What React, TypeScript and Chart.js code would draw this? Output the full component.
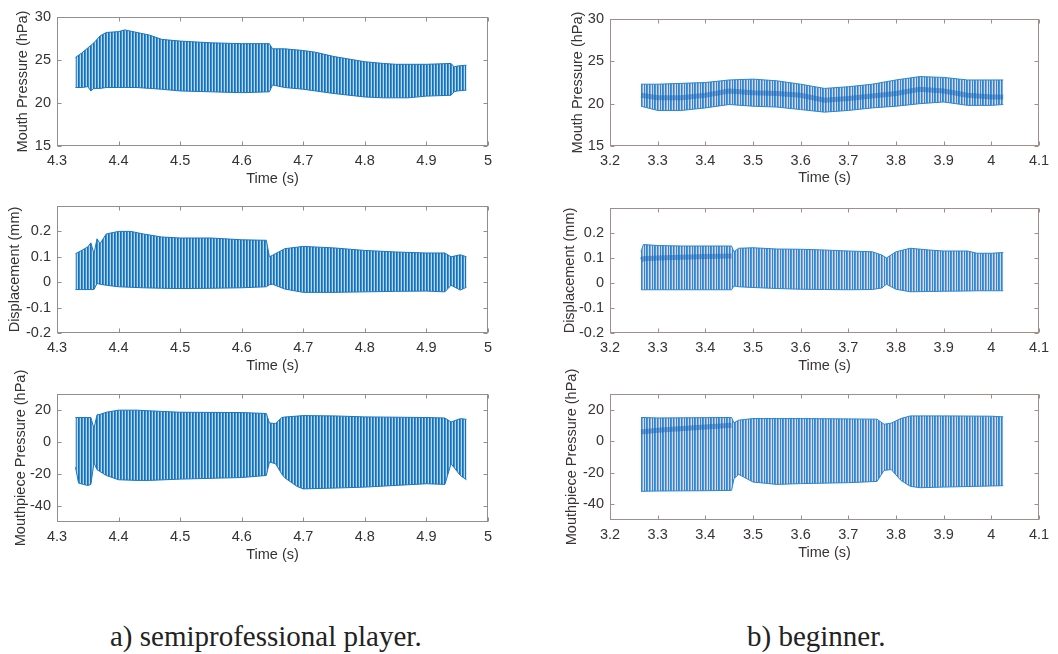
import React, { useEffect, useRef } from 'react';
import { Chart, registerables } from 'chart.js';

Chart.register(...registerables);

// ---------- tick labels ----------
const xTicksSemi = [4.3, 4.4, 4.5, 4.6, 4.7, 4.8, 4.9, 5];
const xTicksBeg = [3.2, 3.3, 3.4, 3.5, 3.6, 3.7, 3.8, 3.9, 4, 4.1];
const yTicksMouth = [15, 20, 25, 30];
const yTicksDisp = [-0.2, -0.1, 0, 0.1, 0.2];
const yTicksMp = [-40, -20, 0, 20];

// ---------- a) semiprofessional: mouth pressure envelope (hPa) ----------
const semiMouthT = [4.33, 4.34, 4.35, 4.355, 4.36, 4.37, 4.38, 4.40, 4.41, 4.43, 4.45, 4.47, 4.50, 4.55, 4.60, 4.645, 4.65, 4.67, 4.70, 4.72, 4.75, 4.80, 4.83, 4.85, 4.87, 4.90, 4.94, 4.945, 4.95, 4.965];
const semiMouthHi = [25.3, 25.8, 26.4, 26.7, 27.0, 27.8, 28.2, 28.3, 28.5, 28.2, 27.9, 27.4, 27.2, 27.0, 26.9, 26.9, 26.3, 26.3, 26.1, 25.9, 25.4, 24.8, 24.6, 24.5, 24.5, 24.5, 24.6, 24.2, 24.3, 24.4];
const semiMouthLo = [21.8, 21.8, 21.9, 21.4, 21.7, 21.7, 21.8, 21.8, 21.8, 21.8, 21.7, 21.6, 21.4, 21.3, 21.2, 21.3, 22.1, 21.8, 21.6, 21.4, 21.1, 20.7, 20.6, 20.6, 20.6, 20.8, 20.9, 21.3, 21.4, 21.5];

// ---------- a) semiprofessional: displacement envelope (mm) ----------
const semiDispT = [4.33, 4.34, 4.35, 4.355, 4.36, 4.365, 4.37, 4.38, 4.40, 4.42, 4.44, 4.47, 4.50, 4.55, 4.60, 4.64, 4.645, 4.65, 4.67, 4.70, 4.75, 4.80, 4.85, 4.90, 4.93, 4.94, 4.955, 4.965];
const semiDispHi = [0.112, 0.125, 0.139, 0.155, 0.112, 0.171, 0.152, 0.19, 0.2, 0.2, 0.19, 0.178, 0.174, 0.174, 0.167, 0.165, 0.1, 0.106, 0.132, 0.141, 0.135, 0.125, 0.119, 0.115, 0.115, 0.1, 0.108, 0.1];
const semiDispLo = [-0.029, -0.029, -0.029, -0.029, -0.029, -0.005, -0.008, -0.012, -0.018, -0.02, -0.022, -0.024, -0.025, -0.024, -0.022, -0.018, -0.01, -0.008, -0.027, -0.04, -0.04, -0.038, -0.036, -0.035, -0.038, -0.012, -0.031, -0.02];

// ---------- a) semiprofessional: mouthpiece pressure envelope (hPa) ----------
const semiMpT = [4.33, 4.335, 4.35, 4.355, 4.36, 4.365, 4.37, 4.38, 4.40, 4.43, 4.45, 4.50, 4.60, 4.64, 4.645, 4.655, 4.665, 4.67, 4.69, 4.70, 4.75, 4.80, 4.90, 4.93, 4.94, 4.955, 4.965];
const semiMpHi = [15.3, 15.3, 15.3, 15.3, 8.4, 17.0, 17.3, 18.6, 19.9, 19.9, 19.5, 18.6, 18.4, 17.8, 11.9, 11.5, 15.3, 15.6, 16.2, 16.5, 16.3, 15.7, 15.3, 15.0, 12.5, 14.6, 14.2];
const semiMpLo = [-15.7, -25.7, -27.2, -26.5, -13.0, -17.3, -18.5, -20.9, -23.6, -24.0, -24.0, -23.2, -22.2, -20.9, -12.5, -13.6, -20.0, -22.4, -27.8, -29.3, -28.8, -28.2, -26.1, -26.5, -13.6, -20.9, -23.6];

// ---------- b) beginner: mouth pressure envelope (hPa) ----------
const begMouthT = [3.265, 3.30, 3.35, 3.40, 3.45, 3.50, 3.55, 3.60, 3.65, 3.70, 3.75, 3.80, 3.85, 3.90, 3.95, 4.00, 4.025];
const begMouthHi = [22.3, 22.3, 22.4, 22.5, 22.8, 22.9, 22.7, 22.3, 21.8, 22.0, 22.3, 22.8, 23.2, 23.1, 22.8, 22.8, 22.8];
const begMouthLo = [19.7, 19.2, 19.2, 19.5, 19.9, 19.7, 19.6, 19.3, 19.0, 19.2, 19.5, 19.7, 20.0, 20.2, 19.8, 19.8, 19.9];
const begMouthMid = [21.0, 20.7, 20.7, 21.0, 21.5, 21.3, 21.2, 21.0, 20.4, 20.6, 20.9, 21.2, 21.7, 21.5, 21.0, 20.8, 20.8];

// ---------- b) beginner: displacement envelope (mm) ----------
const begDispT = [3.265, 3.27, 3.30, 3.35, 3.40, 3.455, 3.46, 3.47, 3.50, 3.55, 3.60, 3.65, 3.70, 3.75, 3.77, 3.78, 3.80, 3.83, 3.87, 3.90, 3.95, 3.97, 4.00, 4.025];
const begDispHi = [0.125, 0.154, 0.150, 0.148, 0.148, 0.148, 0.125, 0.139, 0.141, 0.136, 0.135, 0.132, 0.128, 0.125, 0.112, 0.100, 0.125, 0.139, 0.132, 0.128, 0.128, 0.119, 0.119, 0.122];
const begDispLo = [-0.027, -0.027, -0.027, -0.027, -0.027, -0.027, -0.012, -0.015, -0.018, -0.022, -0.025, -0.026, -0.027, -0.026, -0.020, -0.005, -0.025, -0.035, -0.034, -0.033, -0.032, -0.031, -0.031, -0.031];
const begDispMid = [0.092, 0.097, 0.100, 0.103, 0.106, 0.108, null, null, null, null, null, null, null, null, null, null, null, null, null, null, null, null, null, null];

// ---------- b) beginner: mouthpiece pressure envelope (hPa) ----------
const begMpT = [3.265, 3.30, 3.40, 3.455, 3.46, 3.47, 3.50, 3.55, 3.60, 3.70, 3.76, 3.775, 3.79, 3.81, 3.83, 3.85, 3.90, 4.00, 4.025];
const begMpHi = [15.1, 14.8, 15.0, 15.1, 11.7, 13.4, 14.4, 14.4, 14.4, 14.2, 14.0, 10.8, 11.5, 14.4, 16.1, 16.1, 16.1, 15.9, 15.5];
const begMpLo = [-31.8, -31.6, -31.4, -31.2, -23.8, -21.0, -25.9, -27.4, -26.9, -26.3, -25.5, -18.5, -18.0, -24.8, -28.6, -29.5, -29.1, -28.4, -28.2];
const begMpMid = [5.9, 7.0, 9.1, 10.2, null, null, null, null, null, null, null, null, null, null, null, null, null, null, null];

const FONT = "'Liberation Sans', Arial, Helvetica, sans-serif";
const FS = 14.5;
const LH = FS * 1.2;

type PanelDef = {
  L: number; T: number; W: number; H: number;
  cl: number; ct: number; cr: number; cb: number;
  xMin: number; xMax: number; xTicks: number[];
  yMin: number; yMax: number; yTicks: number[];
  yLabel: string; yTitleX: number; xTitleY: number;
  t: number[]; hi: number[]; lo: number[]; mid?: (number | null)[];
  beginner: boolean;
};

const fmt = (v: number) => String(Number(Number(v).toFixed(3)));

function makePattern(ctx: CanvasRenderingContext2D, cols: string[]) {
  const c = document.createElement('canvas');
  c.width = cols.length;
  c.height = 1;
  const g = c.getContext('2d')!;
  cols.forEach((col, i) => {
    g.fillStyle = col;
    g.fillRect(i, 0, 1, 1);
  });
  return ctx.createPattern(c, 'repeat')!;
}

function Panel({ p }: { p: PanelDef }) {
  const ref = useRef<HTMLCanvasElement | null>(null);
  useEffect(() => {
    const canvas = ref.current!;
    const ctx = canvas.getContext('2d')!;
    const stripes = p.beginner
      ? ['#2a88d0', '#4898d8', '#e0d2e6', '#2a88d0', '#72aee0', '#e4d6ea', '#2a88d0', '#d6cce6']
      : ['#1470bb', '#3d90cf', '#b9d7ef'];
    const pattern = makePattern(ctx, stripes);
    const lineCol = p.beginner ? '#2a86cc' : '#1a76c0';
    const axisCol = p.beginner ? '#a08e8a' : '#8f8f8f';
    const textCol = p.beginner ? '#3a3333' : '#333333';
    const pts = (ys: (number | null)[]) => p.t.map((x, i) => ({ x, y: ys[i] }));
    const datasets: any[] = [
      { data: pts(p.hi), borderColor: lineCol, borderWidth: 1, pointRadius: 0, fill: false, tension: 0 },
      { data: pts(p.lo), borderColor: lineCol, borderWidth: 1, pointRadius: 0, fill: '-1', backgroundColor: pattern, tension: 0 },
    ];
    if (p.mid) {
      datasets.push({ data: pts(p.mid), borderColor: 'rgba(20,100,180,0.5)', borderWidth: 5, pointRadius: 0, fill: false, order: -1, spanGaps: false });
    }
    const boxPlugin = {
      id: 'matlabBox',
      afterDatasetsDraw(chart: any) {
        const { ctx: c, chartArea: a, scales } = chart;
        const xs = scales.x, ys = scales.y;
        c.save();
        c.strokeStyle = axisCol;
        c.lineWidth = 1;
        const l = Math.round(a.left) + 0.5, r = Math.round(a.right) - 0.5;
        const t = Math.round(a.top) + 0.5, b = Math.round(a.bottom) - 0.5;
        c.strokeRect(l, t, r - l, b - t);
        c.beginPath();
        p.xTicks.forEach((v) => {
          const px = Math.round(xs.getPixelForValue(v)) + 0.5;
          c.moveTo(px, b); c.lineTo(px, b - 4);
          c.moveTo(px, t); c.lineTo(px, t + 4);
        });
        p.yTicks.forEach((v) => {
          const py = Math.round(ys.getPixelForValue(v)) + 0.5;
          c.moveTo(l, py); c.lineTo(l + 4, py);
          c.moveTo(r, py); c.lineTo(r - 4, py);
        });
        c.stroke();
        c.restore();
      },
    };
    const chart = new Chart(ctx, {
      type: 'line',
      data: { datasets },
      options: {
        animation: false,
        responsive: false,
        events: [],
        layout: { padding: { left: 0, top: p.ct - p.T, right: p.L + p.W - p.cr, bottom: 0 } },
        plugins: { legend: { display: false }, tooltip: { enabled: false } },
        scales: {
          x: {
            type: 'linear',
            min: p.xMin,
            max: p.xMax,
            afterBuildTicks: (s: any) => { s.ticks = p.xTicks.map((v) => ({ value: v })); },
            afterFit: (s: any) => { s.height = p.T + p.H - p.cb; },
            grid: { display: false, drawTicks: false },
            border: { display: false },
            ticks: { padding: 6, color: textCol, font: { family: FONT, size: FS }, maxRotation: 0, autoSkip: false, callback: (v: any) => fmt(v) },
            title: { display: true, text: 'Time (s)', color: textCol, font: { family: FONT, size: FS }, padding: { top: 0, bottom: p.T + p.H - p.xTitleY - LH / 2 } },
          },
          y: {
            type: 'linear',
            min: p.yMin,
            max: p.yMax,
            afterBuildTicks: (s: any) => { s.ticks = p.yTicks.map((v) => ({ value: v })); },
            afterFit: (s: any) => { s.width = p.cl - p.L; },
            grid: { display: false, drawTicks: false },
            border: { display: false },
            ticks: { padding: 6, color: textCol, font: { family: FONT, size: FS }, autoSkip: false, callback: (v: any) => fmt(v) },
            title: { display: true, text: p.yLabel, color: textCol, font: { family: FONT, size: FS }, padding: { top: p.yTitleX - p.L - LH / 2, bottom: 0 } },
          },
        },
      } as any,
      plugins: [boxPlugin],
    });
    return () => chart.destroy();
  }, []);
  return (
    <canvas
      ref={ref}
      width={p.W}
      height={p.H}
      style={{ position: 'absolute', left: p.L, top: p.T, width: p.W, height: p.H }}
    />
  );
}

const LCOL = { L: 0, W: 500, cl: 57, cr: 488, xMin: 4.3, xMax: 5, xTicks: xTicksSemi, beginner: false };
const RCOL = { L: 550, W: 508, cl: 610, cr: 1039, xMin: 3.2, xMax: 4.1, xTicks: xTicksBeg, beginner: true };

const panels: PanelDef[] = [
  { ...LCOL, T: 0, H: 195, ct: 17, cb: 146, yMin: 15, yMax: 30, yTicks: yTicksMouth, yLabel: 'Mouth Pressure (hPa)', yTitleX: 23, xTitleY: 179, t: semiMouthT, hi: semiMouthHi, lo: semiMouthLo },
  { ...LCOL, T: 185, H: 195, ct: 206, cb: 333, yMin: -0.2, yMax: 0.3, yTicks: yTicksDisp, yLabel: 'Displacement (mm)', yTitleX: 15, xTitleY: 366, t: semiDispT, hi: semiDispHi, lo: semiDispLo },
  { ...LCOL, T: 360, H: 210, ct: 394, cb: 522, yMin: -50, yMax: 30, yTicks: yTicksMp, yLabel: 'Mouthpiece Pressure (hPa)', yTitleX: 21, xTitleY: 555, t: semiMpT, hi: semiMpHi, lo: semiMpLo },
  { ...RCOL, T: 0, H: 195, ct: 19, cb: 146, yMin: 15, yMax: 30, yTicks: yTicksMouth, yLabel: 'Mouth Pressure (hPa)', yTitleX: 578, xTitleY: 178, t: begMouthT, hi: begMouthHi, lo: begMouthLo, mid: begMouthMid },
  { ...RCOL, T: 185, H: 195, ct: 208, cb: 333, yMin: -0.2, yMax: 0.3, yTicks: yTicksDisp, yLabel: 'Displacement (mm)', yTitleX: 570, xTitleY: 366, t: begDispT, hi: begDispHi, lo: begDispLo, mid: begDispMid },
  { ...RCOL, T: 360, H: 210, ct: 394, cb: 520, yMin: -50, yMax: 30, yTicks: yTicksMp, yLabel: 'Mouthpiece Pressure (hPa)', yTitleX: 572, xTitleY: 553, t: begMpT, hi: begMpHi, lo: begMpLo, mid: begMpMid },
];

const captionStyle: React.CSSProperties = {
  position: 'absolute',
  top: 622,
  fontFamily: "'Liberation Serif', 'Times New Roman', serif",
  fontSize: 29,
  lineHeight: '29px',
  color: '#222',
  whiteSpace: 'nowrap',
};

export default function App() {
  return (
    <div style={{ position: 'absolute', left: 0, top: 0, width: 1058, height: 654, background: '#fff', overflow: 'hidden' }}>
      {panels.map((p, i) => (
        <Panel key={i} p={p} />
      ))}
      <div style={{ ...captionStyle, left: 110 }}>a) semiprofessional player.</div>
      <div style={{ ...captionStyle, left: 747 }}>b) beginner.</div>
    </div>
  );
}
